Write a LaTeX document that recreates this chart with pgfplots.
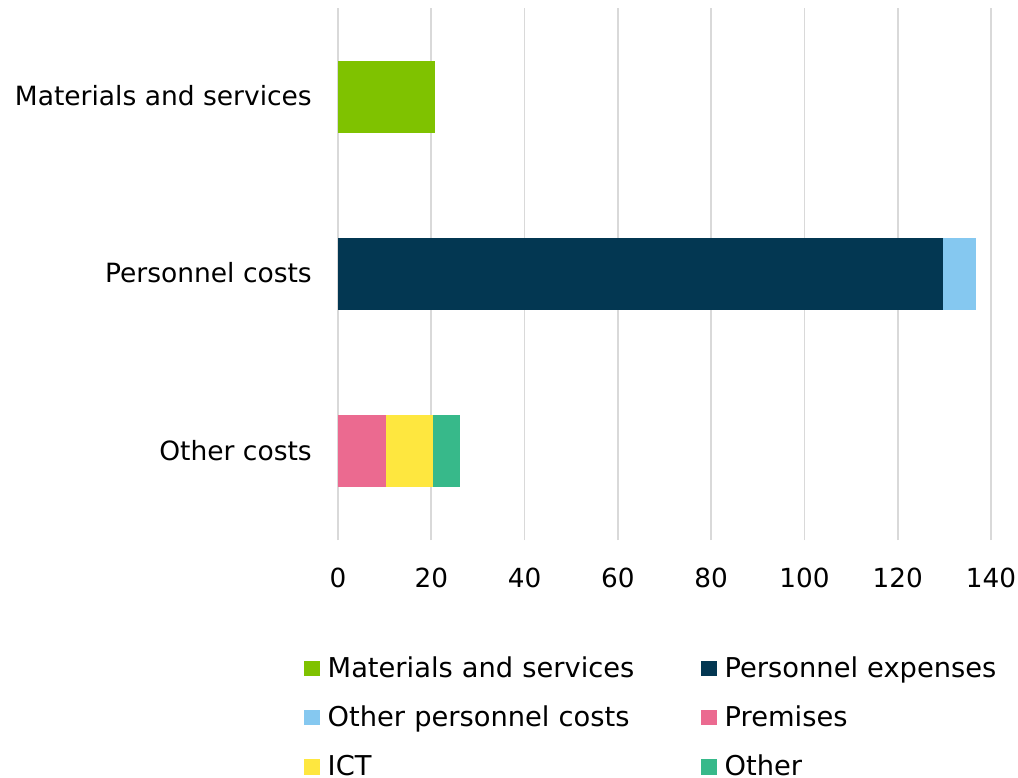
\documentclass[border=0pt]{standalone}
\usepackage{pgfplots}
\pgfplotsset{compat=1.18}
\usepackage{fontspec}
\setmainfont{DejaVu Sans}
\definecolor{cMat}{HTML}{7FC200}
\definecolor{cPers}{HTML}{033752}
\definecolor{cOPers}{HTML}{85C8F0}
\definecolor{cPrem}{HTML}{EB6A90}
\definecolor{cICT}{HTML}{FEE73F}
\definecolor{cOth}{HTML}{37B98A}
\definecolor{cGrid}{HTML}{D9D9D9}
\pgfplotsset{sqleg/.style={legend image code/.code={\fill[##1] (0pt,-5.7pt) rectangle (15.7pt,9.6pt);}}}
\begin{document}
\fontsize{26.5pt}{31pt}\selectfont
\begin{tikzpicture}
\begin{axis}[
  name=ax,
  scale only axis, width=653pt, height=532pt,
  xbar stacked, bar width=72pt,
  xmin=0, xmax=140, ymin=-0.5, ymax=2.5,
  xtick={0,20,...,140},
  ytick={0,1,2},
  yticklabels={Other costs, Personnel costs, Materials and services},
  xmajorgrids, ymajorgrids=false,
  major grid style={cGrid, line width=1.75pt},
  axis line style={draw=none},
  major tick length=0pt,
  /pgf/number format/assume math mode=true,
  xticklabel style={anchor=base, inner sep=0pt, yshift=-47.3pt, font=\fontsize{26.3pt}{31pt}\selectfont},
  yticklabel style={anchor=base east, inner sep=0pt, xshift=-26pt, yshift=-8.7pt},
  legend columns=2,
  legend cell align=left,
  legend style={draw=none, fill=none, inner sep=0pt, outer sep=0pt,
    anchor=north west, at={(-0.05207,-0.2205)},
    font=\fontsize{27.3pt}{32pt}\selectfont,
    row sep=23.3pt,
    nodes={inner sep=0pt, text height=20pt, text depth=6pt, text width=330pt, align=left},
    /tikz/every odd column/.append style={column sep=8pt},
    /tikz/every even column/.append style={column sep=43.3pt}},
]
\addplot[sqleg, fill=cMat, draw=none] coordinates {(20.7,2) (0,1) (0,0)};
\addlegendentry{Materials and services}
\addplot[sqleg, fill=cPers, draw=none] coordinates {(0,2) (129.7,1) (0,0)};
\addlegendentry{Personnel expenses}
\addplot[sqleg, fill=cOPers, draw=none] coordinates {(0,2) (7.1,1) (0,0)};
\addlegendentry{Other personnel costs}
\addplot[sqleg, fill=cPrem, draw=none] coordinates {(0,2) (0,1) (10.2,0)};
\addlegendentry{Premises}
\addplot[sqleg, fill=cICT, draw=none] coordinates {(0,2) (0,1) (10.2,0)};
\addlegendentry{ICT}
\addplot[sqleg, fill=cOth, draw=none] coordinates {(0,2) (0,1) (5.8,0)};
\addlegendentry{Other}
\end{axis}
\pgfresetboundingbox
\path[use as bounding box] ([xshift=-338pt,yshift=8pt]ax.north west) rectangle ([xshift=680pt,yshift=-769pt]ax.north west);
\end{tikzpicture}
\end{document}
